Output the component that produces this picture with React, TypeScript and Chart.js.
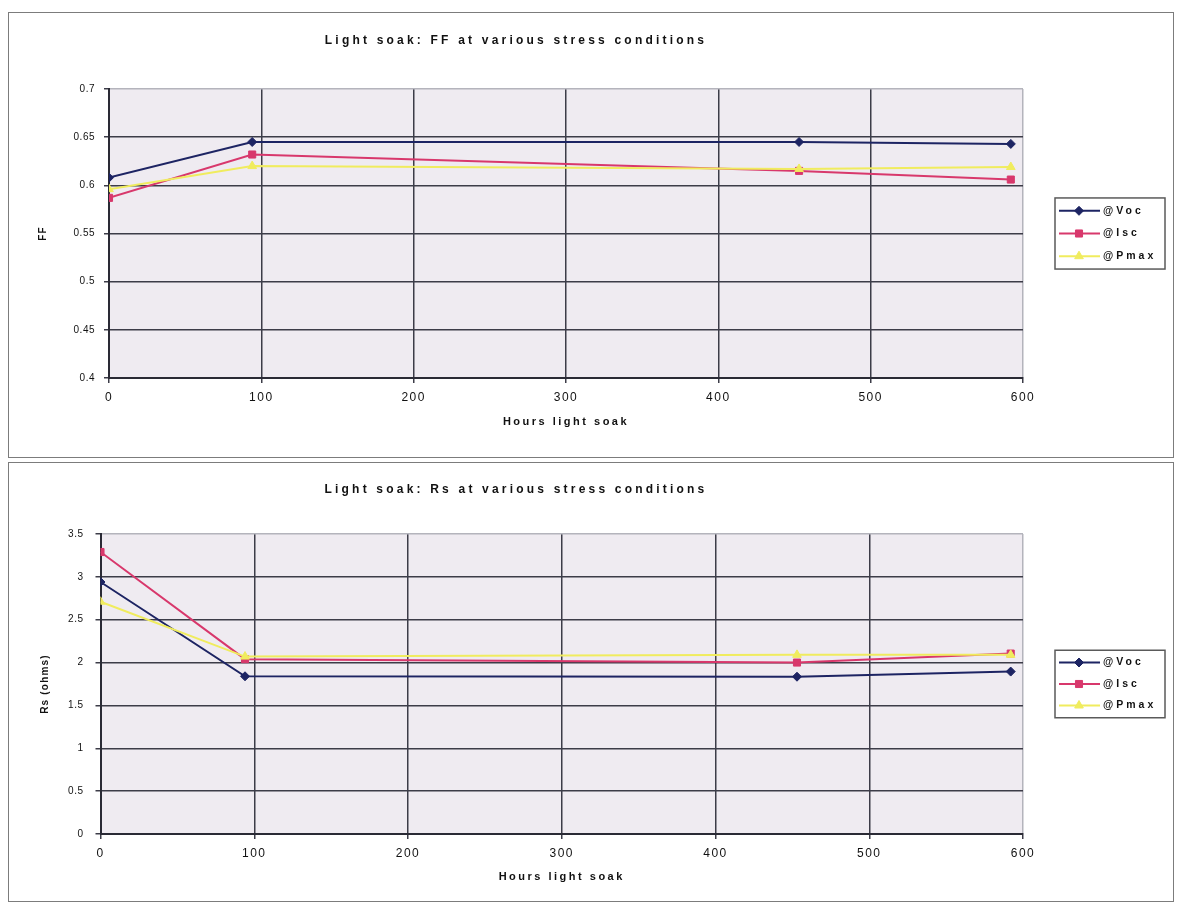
import { useEffect, useLayoutEffect, useRef } from "react";
import { Chart, registerables } from "chart.js";

Chart.register(...registerables);

// Hours of light soak at which each measurement was taken
const soakHours = [0, 94, 453, 592];

// Fill factor measured at each stress condition
const ffAtVoc = [0.608, 0.645, 0.645, 0.643];
const ffAtIsc = [0.587, 0.632, 0.615, 0.606];
const ffAtPmax = [0.596, 0.62, 0.617, 0.619];

// Series resistance (ohms) measured at each stress condition
const rsAtVoc = [2.94, 1.84, 1.835, 1.895];
const rsAtIsc = [3.29, 2.04, 2.0, 2.105];
const rsAtPmax = [2.71, 2.07, 2.09, 2.09];

const seriesLabels = ["@Voc", "@Isc", "@Pmax"];
const hourTicks = [0, 100, 200, 300, 400, 500, 600];
const ffTicks = [0.4, 0.45, 0.5, 0.55, 0.6, 0.65, 0.7];
const rsTicks = [0, 0.5, 1, 1.5, 2, 2.5, 3, 3.5];

const FONT = '"Liberation Sans", Arial, sans-serif';
const INK = "#111111";
const GRID = "#3c3c48";
const AXIS = "#2a2a35";
const FRAME = "#b4b4bc";
const PLOT_FILL = "#efebf1";

const seriesStyles = [
  { color: "#1d2463", pointStyle: "rectRot", radius: 4.5 },
  { color: "#d8386c", pointStyle: "rect", radius: 5 },
  { color: "#f0ec5e", pointStyle: "triangle", radius: 5 },
];

// letter spacing (px) per font weight and size, applied to every canvas text call
const boldSpacing: Record<string, number> = { "12": 3.2, "11": 2.5, "10": 1.2, "10.5": 3 };
const plainSpacing: Record<string, number> = { "12": 1.5, "10": 0.5 };

function spacingFor(font: string): number {
  const bold = /bold|700/.test(font);
  const m = /([\d.]+)px/.exec(font);
  const size = m ? String(parseFloat(m[1])) : "10";
  const table = bold ? boldSpacing : plainSpacing;
  return table[size] ?? 0;
}

const textSpacing = {
  id: "textSpacing",
  beforeDraw(chart: any) {
    const ctx: any = chart.ctx;
    if (ctx.__spaced) return;
    ctx.__spaced = true;
    const fill = ctx.fillText;
    ctx.fillText = function (text: string, x: number, y: number, maxWidth?: number) {
      this.letterSpacing = spacingFor(this.font) + "px";
      if (maxWidth === undefined) return fill.call(this, text, x, y);
      return fill.call(this, text, x, y, maxWidth);
    };
  },
};

const plotBackground = {
  id: "plotBackground",
  beforeDraw(chart: any) {
    const { ctx, chartArea: a } = chart;
    ctx.save();
    ctx.fillStyle = PLOT_FILL;
    ctx.fillRect(a.left, a.top, a.right - a.left, a.bottom - a.top);
    ctx.restore();
  },
};

function drawMarker(ctx: CanvasRenderingContext2D, style: string, x: number, y: number, r: number, color: string) {
  ctx.beginPath();
  if (style === "rectRot") {
    ctx.moveTo(x - r, y);
    ctx.lineTo(x, y - r);
    ctx.lineTo(x + r, y);
    ctx.lineTo(x, y + r);
  } else if (style === "rect") {
    const s = Math.SQRT1_2 * r;
    ctx.rect(x - s, y - s, 2 * s, 2 * s);
  } else {
    for (let k = 0; k < 3; k++) {
      const a = -Math.PI / 2 + (k * 2 * Math.PI) / 3;
      const px = x + Math.cos(a) * r;
      const py = y + Math.sin(a) * r;
      if (k === 0) ctx.moveTo(px, py);
      else ctx.lineTo(px, py);
    }
  }
  ctx.closePath();
  ctx.fillStyle = color;
  ctx.strokeStyle = color;
  ctx.lineWidth = 1;
  ctx.fill();
  ctx.stroke();
}

// boxed legend to the right of the plot, vertically centred on it
const sideLegend = {
  id: "sideLegend",
  afterDraw(chart: any, _args: any, opts: any) {
    const { ctx, chartArea } = chart;
    const rows = chart.data.datasets;
    const boxH = opts.rowHeight * rows.length + opts.padY * 2;
    const x0 = chartArea.right + opts.offsetX;
    const y0 = (chartArea.top + chartArea.bottom) / 2 - boxH / 2;
    ctx.save();
    ctx.fillStyle = "#ffffff";
    ctx.fillRect(x0, y0, opts.width, boxH);
    ctx.strokeStyle = "#5a5a5a";
    ctx.lineWidth = 1.5;
    ctx.strokeRect(x0, y0, opts.width, boxH);
    rows.forEach((ds: any, i: number) => {
      const cy = y0 + opts.padY + opts.rowHeight * (i + 0.5);
      ctx.strokeStyle = ds.borderColor;
      ctx.lineWidth = 2;
      ctx.beginPath();
      ctx.moveTo(x0 + 4, cy);
      ctx.lineTo(x0 + 45, cy);
      ctx.stroke();
      drawMarker(ctx, ds.pointStyle, x0 + 24, cy, ds.pointRadius, ds.backgroundColor);
      ctx.fillStyle = INK;
      ctx.font = `bold 10.5px ${FONT}`;
      ctx.textAlign = "left";
      ctx.textBaseline = "middle";
      ctx.fillText(ds.label, x0 + 48, cy);
    });
    ctx.restore();
  },
};

type PanelLayout = {
  width: number;
  height: number;
  padRight: number;
  titleTop: number;
  titleBottom: number;
  xAxisHeight: number;
  xTitleBottom: number;
  yAxisWidth: number;
  yTickPad: number;
  yTitlePad: number;
  legendRow: number;
};

type PanelSpec = {
  title: string;
  yTitle: string;
  series: number[][];
  yTicks: number[];
  layout: PanelLayout;
};

function buildConfig(spec: PanelSpec): any {
  const L = spec.layout;
  const xMax = hourTicks[hourTicks.length - 1];
  const yMax = spec.yTicks[spec.yTicks.length - 1];
  return {
    type: "line",
    data: {
      datasets: spec.series.map((vals, i) => ({
        label: seriesLabels[i],
        data: soakHours.map((h, j) => ({ x: h, y: vals[j] })),
        borderColor: seriesStyles[i].color,
        backgroundColor: seriesStyles[i].color,
        pointStyle: seriesStyles[i].pointStyle,
        pointRadius: seriesStyles[i].radius,
        pointBorderWidth: 1,
        borderWidth: 2,
        tension: 0,
        order: spec.series.length - 1 - i,
      })),
    },
    options: {
      animation: false,
      responsive: false,
      devicePixelRatio: 1,
      layout: { padding: { left: 0, right: L.padRight, top: 0, bottom: 0 } },
      plugins: {
        legend: { display: false },
        tooltip: { enabled: false },
        title: {
          display: true,
          text: spec.title,
          color: INK,
          font: { family: FONT, size: 12, weight: "bold" },
          padding: { top: L.titleTop, bottom: L.titleBottom },
        },
        sideLegend: { offsetX: 32, width: 110, rowHeight: L.legendRow, padY: 1.5 },
      },
      scales: {
        x: {
          type: "linear",
          min: hourTicks[0],
          max: xMax,
          afterBuildTicks: (s: any) => {
            s.ticks = hourTicks.map((value) => ({ value }));
          },
          afterFit: (s: any) => {
            s.height = L.xAxisHeight;
          },
          ticks: {
            autoSkip: false,
            maxRotation: 0,
            padding: 7,
            color: INK,
            font: { family: FONT, size: 12 },
            callback: (v: number) => String(v),
          },
          grid: {
            color: (c: any) => (c.tick && c.tick.value === xMax ? FRAME : GRID),
            lineWidth: 1.5,
            tickLength: 5,
            tickColor: GRID,
            tickWidth: 1.5,
          },
          border: { color: AXIS, width: 2 },
          title: {
            display: true,
            text: "Hours light soak",
            color: INK,
            font: { family: FONT, size: 11, weight: "bold" },
            padding: { top: 0, bottom: L.xTitleBottom },
          },
        },
        y: {
          type: "linear",
          min: spec.yTicks[0],
          max: yMax,
          afterBuildTicks: (s: any) => {
            s.ticks = spec.yTicks.map((value) => ({ value }));
          },
          afterFit: (s: any) => {
            s.width = L.yAxisWidth;
          },
          ticks: {
            autoSkip: false,
            padding: L.yTickPad,
            color: INK,
            font: { family: FONT, size: 10 },
            callback: (v: number) => String(v),
          },
          grid: {
            color: (c: any) => (c.tick && c.tick.value === yMax ? FRAME : GRID),
            lineWidth: 1.5,
            tickLength: 5,
            tickColor: GRID,
            tickWidth: 1.5,
          },
          border: { color: AXIS, width: 2 },
          title: {
            display: true,
            text: spec.yTitle,
            color: INK,
            font: { family: FONT, size: 10, weight: "bold" },
            padding: { top: L.yTitlePad, bottom: 0 },
          },
        },
      },
    },
    plugins: [plotBackground, textSpacing, sideLegend],
  };
}

const ffPanel: PanelSpec = {
  title: "Light soak: FF at various stress conditions",
  yTitle: "FF",
  series: [ffAtVoc, ffAtIsc, ffAtPmax],
  yTicks: ffTicks,
  layout: {
    width: 1164,
    height: 444,
    padRight: 150,
    titleTop: 20,
    titleBottom: 41.6,
    xAxisHeight: 79,
    xTitleBottom: 28.4,
    yAxisWidth: 100,
    yTickPad: 9,
    yTitlePad: 28,
    legendRow: 22.7,
  },
};

const rsPanel: PanelSpec = {
  title: "Light soak: Rs at various stress conditions",
  yTitle: "Rs (ohms)",
  series: [rsAtVoc, rsAtIsc, rsAtPmax],
  yTicks: rsTicks,
  layout: {
    width: 1164,
    height: 438,
    padRight: 150,
    titleTop: 19,
    titleBottom: 37.6,
    xAxisHeight: 67,
    xTitleBottom: 17.4,
    yAxisWidth: 91.5,
    yTickPad: 12,
    yTitlePad: 30,
    legendRow: 21.5,
  },
};

function Panel({ spec, left, top }: { spec: PanelSpec; left: number; top: number }) {
  const ref = useRef<HTMLCanvasElement>(null);
  useEffect(() => {
    const chart = new Chart(ref.current as HTMLCanvasElement, buildConfig(spec));
    return () => chart.destroy();
  }, [spec]);
  const { width, height } = spec.layout;
  return (
    <div
      style={{
        position: "absolute",
        left,
        top,
        width: width + 2,
        height: height + 2,
        boxSizing: "border-box",
        border: "1px solid #7c7c7c",
        background: "#ffffff",
      }}
    >
      <canvas ref={ref} width={width} height={height} style={{ display: "block", width, height }} />
    </div>
  );
}

export default function App() {
  // the page is a full-window sheet: drop the body margin so both panels fit edge to edge
  useLayoutEffect(() => {
    const prev = document.body.style.margin;
    document.body.style.margin = "0";
    return () => {
      document.body.style.margin = prev;
    };
  }, []);
  return (
    <div style={{ position: "relative", width: 1177, height: 905, overflow: "hidden", background: "#ffffff" }}>
      <Panel spec={ffPanel} left={8} top={12} />
      <Panel spec={rsPanel} left={8} top={462} />
    </div>
  );
}
